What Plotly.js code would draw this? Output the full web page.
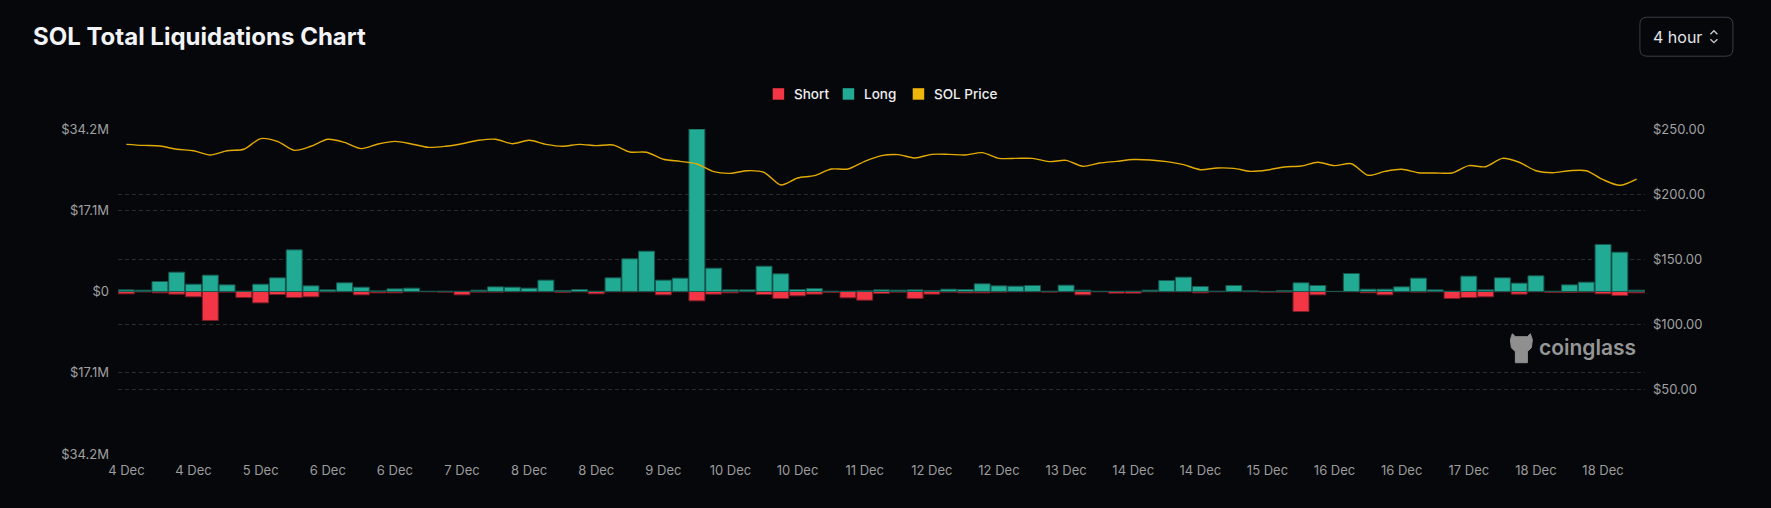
<!DOCTYPE html>
<html>
<head>
<meta charset="utf-8">
<script src="https://cdn.plot.ly/plotly-3.0.1.min.js"></script>
<style>
html,body{margin:0;padding:0;background:#05070b;}
#chart{width:1771px;height:508px;}
</style>
</head>
<body>
<div id="chart"></div>
<script>
// ---- DATA ----
const times = [
 "4 Dec 00:00","4 Dec 04:00","4 Dec 08:00","4 Dec 12:00","4 Dec 16:00","4 Dec 20:00",
 "5 Dec 00:00","5 Dec 04:00","5 Dec 08:00","5 Dec 12:00","5 Dec 16:00","5 Dec 20:00",
 "6 Dec 00:00","6 Dec 04:00","6 Dec 08:00","6 Dec 12:00","6 Dec 16:00","6 Dec 20:00",
 "7 Dec 00:00","7 Dec 04:00","7 Dec 08:00","7 Dec 12:00","7 Dec 16:00","7 Dec 20:00",
 "8 Dec 00:00","8 Dec 04:00","8 Dec 08:00","8 Dec 12:00","8 Dec 16:00","8 Dec 20:00",
 "9 Dec 00:00","9 Dec 04:00","9 Dec 08:00","9 Dec 12:00","9 Dec 16:00","9 Dec 20:00",
 "10 Dec 00:00","10 Dec 04:00","10 Dec 08:00","10 Dec 12:00","10 Dec 16:00","10 Dec 20:00",
 "11 Dec 00:00","11 Dec 04:00","11 Dec 08:00","11 Dec 12:00","11 Dec 16:00","11 Dec 20:00",
 "12 Dec 00:00","12 Dec 04:00","12 Dec 08:00","12 Dec 12:00","12 Dec 16:00","12 Dec 20:00",
 "13 Dec 00:00","13 Dec 04:00","13 Dec 08:00","13 Dec 12:00","13 Dec 16:00","13 Dec 20:00",
 "14 Dec 00:00","14 Dec 04:00","14 Dec 08:00","14 Dec 12:00","14 Dec 16:00","14 Dec 20:00",
 "15 Dec 00:00","15 Dec 04:00","15 Dec 08:00","15 Dec 12:00","15 Dec 16:00","15 Dec 20:00",
 "16 Dec 00:00","16 Dec 04:00","16 Dec 08:00","16 Dec 12:00","16 Dec 16:00","16 Dec 20:00",
 "17 Dec 00:00","17 Dec 04:00","17 Dec 08:00","17 Dec 12:00","17 Dec 16:00","17 Dec 20:00",
 "18 Dec 00:00","18 Dec 04:00","18 Dec 08:00","18 Dec 12:00","18 Dec 16:00","18 Dec 20:00",
 "19 Dec 00:00"
];

// Long liquidations (millions USD)
const longLiq = [
 0.35,0.28,2.10,4.07,1.54,3.44,1.40,0.07,1.54,2.88,
 8.77,1.19,0.35,1.83,0.91,0.14,0.56,0.70,0.05,0.07,
 0.05,0.28,0.98,0.91,0.70,2.39,0.21,0.42,0.07,2.88,
 6.88,8.49,2.39,2.81,34.2,4.91,0.35,0.35,5.33,3.72,
 0.42,0.63,0.07,0.07,0.14,0.35,0.28,0.35,0.21,0.49,
 0.42,1.62,1.19,1.12,1.26,0.07,1.33,0.28,0.05,0.05,
 0.07,0.28,2.32,3.02,1.05,0.07,1.26,0.14,0.03,0.21,
 1.83,1.26,0.03,3.79,0.49,0.49,0.98,2.81,0.35,0.07,
 3.23,0.35,2.88,1.76,3.30,0.07,1.40,1.97,9.90,8.28,
 0.28
];

// Short liquidations (millions USD, magnitude)
const shortLiq = [
 0.49,0.10,0.28,0.56,1.12,6.10,0.14,1.26,2.39,0.63,
 1.26,1.12,0.10,0.07,0.70,0.28,0.28,0.07,0.07,0.14,
 0.70,0.14,0.14,0.07,0.07,0.07,0.21,0.07,0.49,0.07,
 0.10,0.07,0.70,0.07,1.97,0.56,0.28,0.07,0.63,1.47,
 0.91,0.56,0.20,1.33,1.83,0.42,0.14,1.47,0.56,0.14,
 0.28,0.28,0.14,0.07,0.07,0.14,0.07,0.70,0.07,0.35,
 0.35,0.07,0.07,0.07,0.28,0.07,0.07,0.07,0.14,0.14,
 4.21,0.70,0.03,0.07,0.28,0.70,0.07,0.14,0.07,1.47,
 1.26,1.12,0.07,0.56,0.07,0.21,0.21,0.14,0.49,0.84,
 0.28
];

// SOL price (USD)
const solPrice = [
 238.2,237.4,236.9,234.4,233.3,230.0,233.3,234.4,242.6,240.5,
 233.6,236.7,242.1,239.7,234.9,238.5,240.5,238.5,235.9,236.7,
 238.7,241.3,242.1,238.7,241.3,238.2,236.7,238.2,237.2,237.7,
 232.3,232.1,226.7,225.1,223.1,217.2,215.9,217.9,216.7,206.9,
 212.3,214.1,219.2,219.2,225.1,229.5,230.3,227.7,230.5,230.5,
 230.0,231.8,227.4,227.4,227.4,224.9,225.9,221.3,223.8,225.1,
 226.5,226.2,224.9,222.6,218.7,220.0,219.7,217.4,218.5,220.8,
 221.5,224.4,221.8,223.3,214.4,217.4,219.0,216.4,216.2,216.2,
 221.8,221.0,227.4,224.4,217.9,216.4,217.9,217.9,211.0,206.7,
 211.5
];

const seriesNames = ["Short","Long","SOL Price"];
const seriesColors = ["#f23645","#22ab94","#efb60b"];
const xTickText = ["4 Dec","4 Dec","5 Dec","6 Dec","6 Dec","7 Dec","8 Dec","8 Dec","9 Dec","10 Dec","10 Dec","11 Dec","12 Dec","12 Dec","13 Dec","14 Dec","14 Dec","15 Dec","16 Dec","16 Dec","17 Dec","18 Dec","18 Dec"];
const leftTickVals = [-34.2,-17.1,0,17.1,34.2];
const leftTickText = ["$34.2M","$17.1M","$0","$17.1M","$34.2M"];
const rightTickVals = [50,100,150,200,250];
const rightTickText = ["$50.00","$100.00","$150.00","$200.00","$250.00"];

// ---- LAYOUT HELPERS ----
const W = 1771, H = 508;
const L = 118, R = 1644.6, T = 129.3, B = 454.3;
const px = x => (x - L) / (R - L);
const py = y => (B - y) / (B - T);
const xTickVals = times.filter((t, i) => i % 4 === 0).slice(0, xTickText.length);

function roundRect(x1, y1, x2, y2, r) {
  const p = (x, y) => px(x) + ',' + py(y);
  return 'M' + p(x1 + r, y1) + ' L' + p(x2 - r, y1) + ' Q' + p(x2, y1) + ' ' + p(x2, y1 + r) +
    ' L' + p(x2, y2 - r) + ' Q' + p(x2, y2) + ' ' + p(x2 - r, y2) +
    ' L' + p(x1 + r, y2) + ' Q' + p(x1, y2) + ' ' + p(x1, y2 - r) +
    ' L' + p(x1, y1 + r) + ' Q' + p(x1, y1) + ' ' + p(x1 + r, y1) + ' Z';
}
function poly(pts) {
  return 'M' + pts.map(q => px(q[0]) + ',' + py(q[1])).join(' L');
}

const gridColor = 'rgba(255,255,255,0.15)';
const gridDash = '4px,3px';

const traces = [
  {
    type: 'bar', name: seriesNames[0], x: times, y: shortLiq.map(v => -v),
    marker: { color: seriesColors[0], line: { color: '#7a1d27', width: 1 } },
    hoverinfo: 'skip'
  },
  {
    type: 'bar', name: seriesNames[1], x: times, y: longLiq,
    marker: { color: seriesColors[1], line: { color: '#17574e', width: 1 } },
    hoverinfo: 'skip'
  },
  {
    type: 'scatter', mode: 'lines', name: seriesNames[2], x: times, y: solPrice,
    yaxis: 'y2',
    line: { color: '#e3aa06', width: 1.4, shape: 'spline', smoothing: 0.8 },
    hoverinfo: 'skip'
  }
];

// legend drawn as shapes + text (positions in page pixels)
const legendSquareX = [772.5, 842.5, 912.5];
const legendShapes = legendSquareX.map((x, i) => ({
  type: 'rect', xref: 'paper', yref: 'paper',
  x0: px(x), x1: px(x + 11.5), y0: py(88.5), y1: py(100),
  fillcolor: seriesColors[i], line: { width: 0 }
}));
const legendAnn = legendSquareX.map((x, i) => ({
  xref: 'paper', yref: 'paper', x: px(x + 19), y: py(94.5), xanchor: 'left', yanchor: 'middle',
  text: seriesNames[i], showarrow: false,
  font: { family: 'Inter, sans-serif', size: 13.5, color: '#eeeef0', weight: 500 }
}));

const layout = {
  width: W, height: H,
  paper_bgcolor: '#05070b', plot_bgcolor: '#05070b',
  margin: { l: L, r: W - R, t: T, b: H - B, pad: 0 },
  font: { family: 'Inter, "Noto Sans", sans-serif', color: '#a0a0a0', size: 13 },
  title: {
    text: '<b>SOL Total Liquidations Chart</b>',
    x: 33 / W, xanchor: 'left', xref: 'container',
    y: 1 - 37 / H, yanchor: 'middle', yref: 'container',
    font: { family: 'Inter, sans-serif', size: 24, color: '#f2f3f6' }
  },
  barmode: 'relative', bargap: 0.05,
  showlegend: false,
  xaxis: {
    type: 'category', range: [-0.5, times.length - 0.5],
    tickvals: xTickVals, ticktext: xTickText, tickangle: 0,
    showgrid: false, zeroline: false, showline: false, ticks: '',
    ticklabelstandoff: 7,
    tickfont: { size: 13, color: '#9c9c9c' }, fixedrange: true
  },
  yaxis: {
    range: [-34.2, 34.2], tickvals: leftTickVals, ticktext: leftTickText,
    showgrid: true, gridcolor: gridColor, griddash: gridDash, gridwidth: 1,
    zeroline: false, showline: false, ticks: '', ticklabelstandoff: 8,
    tickfont: { size: 13, color: '#a0a0a0' }, fixedrange: true
  },
  yaxis2: {
    overlaying: 'y', side: 'right', range: [0, 250],
    tickvals: rightTickVals, ticktext: rightTickText,
    showgrid: true, gridcolor: gridColor, griddash: gridDash, gridwidth: 1,
    zeroline: false, showline: false, ticks: '', ticklabelstandoff: 7,
    tickfont: { size: 13, color: '#a0a0a0' }, fixedrange: true
  },
  shapes: [
    // interval selector box
    { type: 'path', xref: 'paper', yref: 'paper', path: roundRect(1639.5, 17.5, 1732.5, 56.5, 7),
      line: { color: '#3a3e46', width: 1 }, fillcolor: 'rgba(0,0,0,0)' },
    { type: 'path', xref: 'paper', yref: 'paper', path: poly([[1710, 34.5], [1713.5, 31], [1717, 34.5]]),
      line: { color: '#c9cbd0', width: 1.3 } },
    { type: 'path', xref: 'paper', yref: 'paper', path: poly([[1710, 39.5], [1713.5, 43], [1717, 39.5]]),
      line: { color: '#c9cbd0', width: 1.3 } },
    // watermark logo (approximate)
    { type: 'path', xref: 'paper', yref: 'paper', layer: 'below',
      path: poly([[1512, 334], [1515, 337], [1527, 337], [1530, 334], [1532, 340], [1531, 348], [1527, 352], [1527, 363], [1515, 363], [1515, 352], [1511, 348], [1510, 340]]) + ' Z',
      fillcolor: '#8f8f8f', line: { color: '#8f8f8f', width: 1 } }
  ].concat(legendShapes),
  annotations: [
    { xref: 'paper', yref: 'paper', x: px(1651), y: py(37), xanchor: 'left', yanchor: 'middle',
      text: '4 hour', showarrow: false, font: { family: 'Inter, sans-serif', size: 16, color: '#e4e5e8' } },
    { xref: 'paper', yref: 'paper', x: px(1537), y: py(348), xanchor: 'left', yanchor: 'middle',
      text: 'coinglass', showarrow: false, font: { family: 'Inter, sans-serif', size: 21, color: '#969696', weight: 600 } }
  ].concat(legendAnn)
};

Plotly.newPlot('chart', traces, layout, { displayModeBar: false, staticPlot: true });
</script>
</body>
</html>
